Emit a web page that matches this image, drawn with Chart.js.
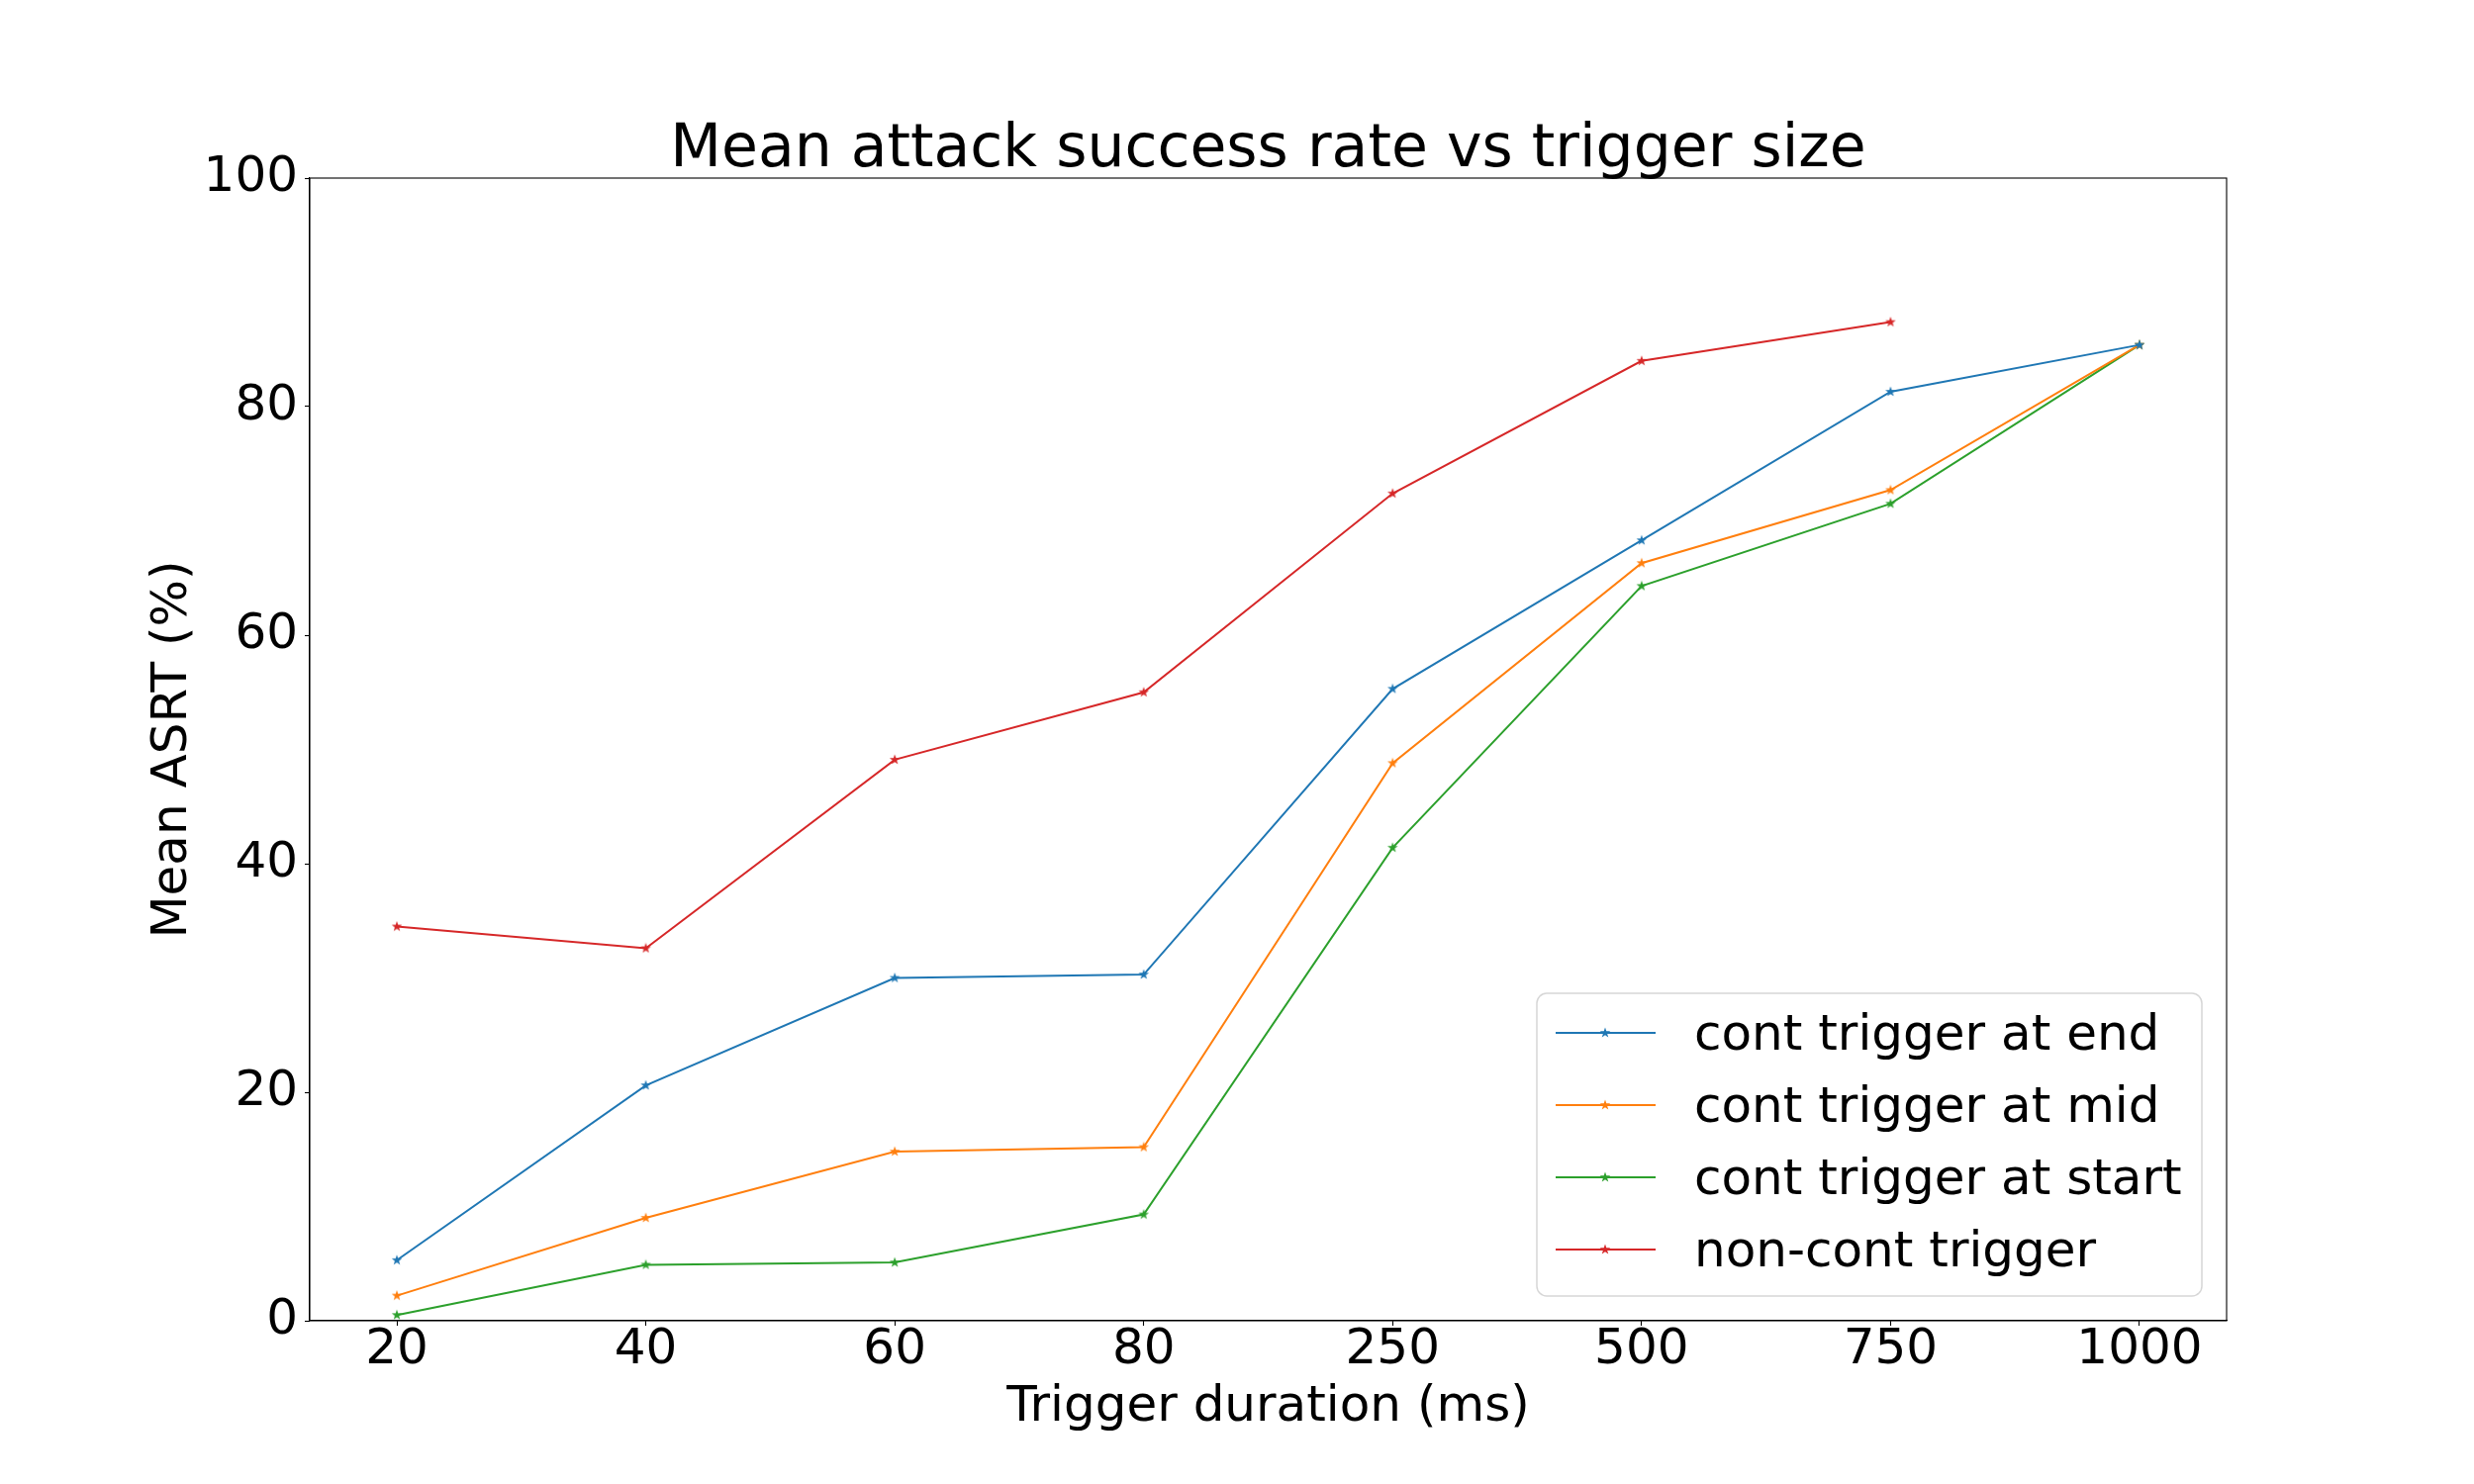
<!DOCTYPE html>
<html>
<head>
<meta charset="utf-8">
<script src="https://cdn.jsdelivr.net/npm/chart.js@4.4.1/dist/chart.umd.min.js"></script>
<style>
  html, body { margin: 0; padding: 0; background: #fff; }
  #wrap { width: 2500px; height: 1500px; }
</style>
</head>
<body>
<div id="wrap"><canvas id="asrChart" width="2500" height="1500"></canvas></div>
<script>
// Mean ASRT vs trigger size
const triggerSizes = ['20', '40', '60', '80', '250', '500', '750', '1000'];
const yTicks = [0, 20, 40, 60, 80, 100];

const contEnd   = [5.3, 20.6, 30.0, 30.3, 55.3, 68.3, 81.3, 85.4];
const contMid   = [2.2, 9.0, 14.8, 15.2, 48.8, 66.3, 72.7, 85.4];
const contStart = [0.5, 4.9, 5.1, 9.3, 41.4, 64.3, 71.5, 85.4];
const nonCont   = [34.5, 32.6, 49.1, 55.0, 72.4, 84.0, 87.4, null];

const seriesLabels = ['cont trigger at end', 'cont trigger at mid', 'cont trigger at start', 'non-cont trigger'];
const seriesColors = ['#1f77b4', '#ff7f0e', '#2ca02c', '#d62728'];

const FONT = "'DejaVu Sans', sans-serif";

// small filled five-point star, like matplotlib's '*' marker
function makeStar(color) {
    const c = document.createElement('canvas');
    c.width = 12; c.height = 12;
    const g = c.getContext('2d');
    g.fillStyle = color;
    g.beginPath();
    for (let i = 0; i < 10; i++) {
        const r = i % 2 === 0 ? 5.5 : 2.2;
        const a = -Math.PI / 2 + i * Math.PI / 5;
        const px = 6 + r * Math.cos(a), py = 6 + r * Math.sin(a);
        if (i === 0) g.moveTo(px, py); else g.lineTo(px, py);
    }
    g.closePath();
    g.fill();
    return c;
}

function toPoints(vals) {
    const out = [];
    vals.forEach(function(v, i) { if (v !== null) out.push({ x: i, y: v }); });
    return out;
}

const seriesValues = [contEnd, contMid, contStart, nonCont];
const stars = seriesColors.map(makeStar);

const datasets = seriesValues.map(function(vals, i) {
    return {
        label: seriesLabels[i],
        data: toPoints(vals),
        borderColor: seriesColors[i],
        backgroundColor: seriesColors[i],
        borderWidth: 2,
        pointStyle: stars[i],
        pointRadius: 5,
        tension: 0
    };
});

// frame, title and matplotlib-style legend box
const decorPlugin = {
    id: 'decor',
    afterDraw(chart) {
        const { ctx, chartArea: a } = chart;
        ctx.save();
        ctx.strokeStyle = '#000';
        ctx.lineWidth = 1.1;
        ctx.strokeRect(a.left, a.top, a.right - a.left, a.bottom - a.top);

        ctx.fillStyle = '#000';
        ctx.font = '60px ' + FONT;
        ctx.textAlign = 'center';
        ctx.textBaseline = 'alphabetic';
        ctx.fillText('Mean attack success rate vs trigger size', (a.left + a.right) / 2, 168);

        // legend
        const lx = 1553, ly = 1004, lw = 672, lh = 306, rad = 10;
        ctx.beginPath();
        ctx.moveTo(lx + rad, ly);
        ctx.arcTo(lx + lw, ly, lx + lw, ly + lh, rad);
        ctx.arcTo(lx + lw, ly + lh, lx, ly + lh, rad);
        ctx.arcTo(lx, ly + lh, lx, ly, rad);
        ctx.arcTo(lx, ly, lx + lw, ly, rad);
        ctx.closePath();
        ctx.fillStyle = 'rgba(255,255,255,0.8)';
        ctx.fill();
        ctx.strokeStyle = 'rgba(204,204,204,0.8)';
        ctx.lineWidth = 1.5;
        ctx.stroke();

        ctx.font = '50px ' + FONT;
        ctx.textAlign = 'left';
        chart.data.datasets.forEach(function(ds, i) {
            const ry = 1044 + i * 73;
            ctx.strokeStyle = ds.borderColor;
            ctx.lineWidth = 2;
            ctx.beginPath();
            ctx.moveTo(1572, ry);
            ctx.lineTo(1673, ry);
            ctx.stroke();
            ctx.drawImage(ds.pointStyle, 1622 - 6, ry - 6);
            ctx.fillStyle = '#000';
            ctx.fillText(ds.label, 1712, ry + 17);
        });
        ctx.restore();
    }
};

new Chart(document.getElementById('asrChart'), {
    type: 'line',
    data: { datasets: datasets },
    plugins: [decorPlugin],
    options: {
        responsive: false,
        devicePixelRatio: 1,
        animation: false,
        layout: { padding: { top: 180, left: 0, right: 250, bottom: 0 } },
        plugins: {
            legend: { display: false },
            title: { display: false },
            tooltip: { enabled: false }
        },
        scales: {
            x: {
                type: 'linear',
                min: -0.35,
                max: 7.35,
                afterFit: function(scale) { scale.height = 165; },
                afterBuildTicks: function(scale) {
                    scale.ticks = triggerSizes.map(function(_, i) { return { value: i }; });
                },
                grid: { drawOnChartArea: false, drawTicks: true, tickLength: 5, tickColor: '#000', tickWidth: 1.1 },
                border: { display: true, color: '#000', width: 1.1 },
                ticks: {
                    color: '#000',
                    padding: 0,
                    maxRotation: 0,
                    autoSkip: false,
                    font: { family: FONT, size: 50, lineHeight: 1.0 },
                    callback: function(value) { return triggerSizes[value]; }
                },
                title: {
                    display: true,
                    text: 'Trigger duration (ms)',
                    color: '#000',
                    font: { family: FONT, size: 50, lineHeight: 1.2 },
                    padding: { top: 0, bottom: 47 }
                }
            },
            y: {
                min: 0,
                max: 100,
                afterFit: function(scale) { scale.width = 313; },
                afterBuildTicks: function(scale) {
                    scale.ticks = yTicks.map(function(v) { return { value: v }; });
                },
                grid: { drawOnChartArea: false, drawTicks: true, tickLength: 5, tickColor: '#000', tickWidth: 1.1 },
                border: { display: true, color: '#000', width: 1.1 },
                ticks: {
                    color: '#000',
                    padding: 7,
                    font: { family: FONT, size: 50 }
                },
                title: {
                    display: true,
                    text: 'Mean ASRT (%)',
                    color: '#000',
                    font: { family: FONT, size: 50, lineHeight: 1.2 },
                    padding: { top: 145, bottom: 0 }
                }
            }
        }
    }
});
</script>
</body>
</html>
